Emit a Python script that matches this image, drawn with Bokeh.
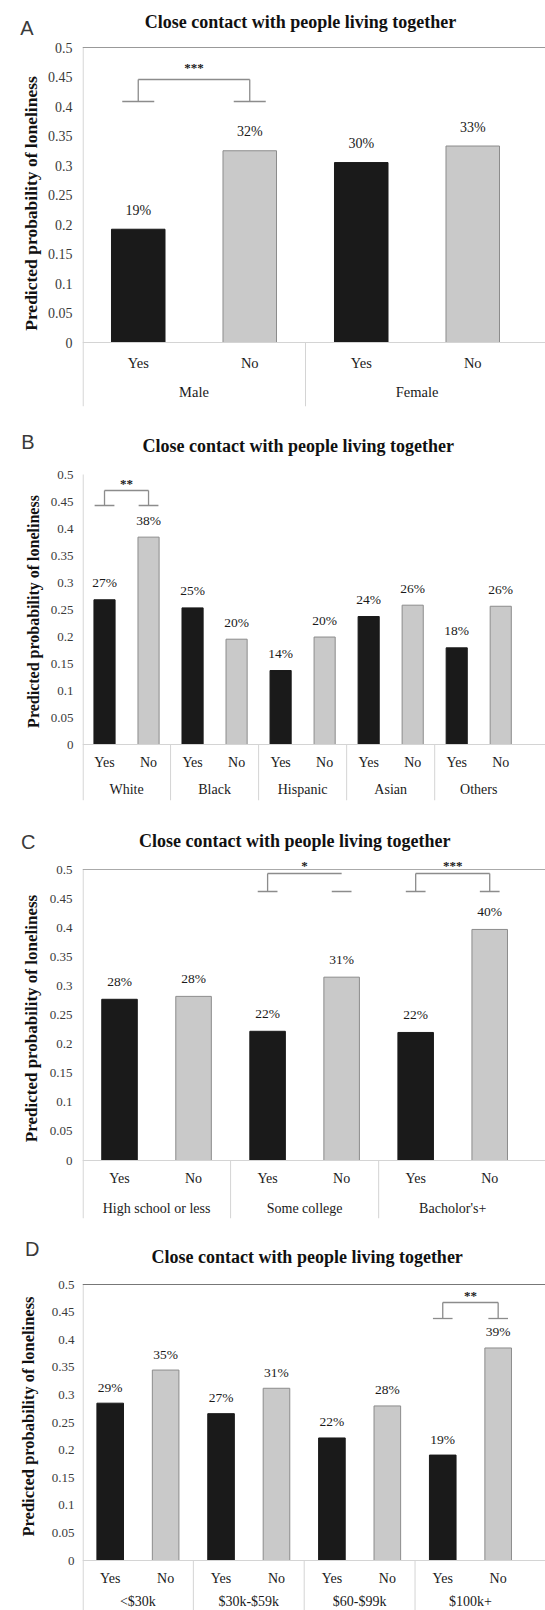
from bokeh.plotting import figure
from bokeh.layouts import column
from bokeh.models import Range1d, FixedTicker, Span, LinearAxis
from bokeh.core.properties import value
from bokeh.embed import file_html
from bokeh.resources import INLINE

# ---------------- data ----------------
TITLE = "Close contact with people living together"
Y_LABEL = "Predicted probability of loneliness"
TICK_VALUES = [0, 0.05, 0.1, 0.15, 0.2, 0.25, 0.3, 0.35, 0.4, 0.45, 0.5]
TICK_LABELS = ["0", "0.05", "0.1", "0.15", "0.2", "0.25", "0.3", "0.35", "0.4", "0.45", "0.5"]
CONTACT = ["Yes", "No"]

A_GROUPS = ["Male", "Female"]
A_YES = [0.192, 0.305]
A_NO = [0.325, 0.333]
A_YES_LABELS = ["19%", "30%"]
A_NO_LABELS = ["32%", "33%"]
A_SIG = [("Male", "***")]

B_GROUPS = ["White", "Black", "Hispanic", "Asian", "Others"]
B_YES = [0.268, 0.253, 0.137, 0.237, 0.179]
B_NO = [0.384, 0.195, 0.199, 0.258, 0.256]
B_YES_LABELS = ["27%", "25%", "14%", "24%", "18%"]
B_NO_LABELS = ["38%", "20%", "20%", "26%", "26%"]
B_SIG = [("White", "**")]

C_GROUPS = ["High school or less", "Some college", "Bacholor's+"]
C_YES = [0.277, 0.222, 0.220]
C_NO = [0.282, 0.315, 0.397]
C_YES_LABELS = ["28%", "22%", "22%"]
C_NO_LABELS = ["28%", "31%", "40%"]
C_SIG = [("Some college", "*"), ("Bacholor's+", "***")]

D_GROUPS = ["<$30k", "$30k-$59k", "$60-$99k", "$100k+"]
D_YES = [0.285, 0.266, 0.222, 0.191]
D_NO = [0.345, 0.312, 0.280, 0.385]
D_YES_LABELS = ["29%", "27%", "22%", "19%"]
D_NO_LABELS = ["35%", "31%", "28%", "39%"]
D_SIG = [("$100k+", "**")]

# ---------------- styles / layout (page pixels) ----------------
SERIF = "Liberation Serif"
SANS = "Liberation Sans"
BLACK_BAR = "#1a1a1a"
GRAY_BAR = "#c9c9c9"
GRAY_EDGE = "#8c8c8c"
AXIS_GRAY = "#d4d4d4"
BRACKET = "#8c8c8c"
PAGE_W = 545

LAYOUTS = {
    "A": dict(fig_top=0, fig_bottom=422, left=82, gw=223, yhalf=47, y0=342, fbot=406,
              title_y=21, title_cx=300, letter_y=27, cat_y=362, grp_y=391, gap=19,
              foot=101, top=79, star=64, fw=16, top_line="#999999",
              fs_tick="14px", fs_ylab="17.5px", fs_cat="14.5px", fs_pct="14px",
              standoff=10, lab_standoff=4, letter_standoff=-16, skip_right=[]),
    "B": dict(fig_top=422, fig_bottom=818, left=77, gw=89, yhalf=474, y0=744, fbot=800,
              title_y=445, title_cx=295, letter_y=441, cat_y=762, grp_y=789, gap=17,
              foot=505, top=490, star=480, fw=10, top_line=None,
              fs_tick="13px", fs_ylab="16px", fs_cat="14px", fs_pct="13.5px",
              standoff=9, lab_standoff=6, letter_standoff=-13, skip_right=[]),
    "C": dict(fig_top=818, fig_bottom=1222, left=76, gw=150, yhalf=869, y0=1160, fbot=1218,
              title_y=840, title_cx=291, letter_y=841, cat_y=1178, grp_y=1208, gap=18,
              foot=891, top=873, star=862, fw=10, top_line="#aaaaaa",
              fs_tick="13px", fs_ylab="17px", fs_cat="14px", fs_pct="13.5px",
              standoff=10, lab_standoff=6, letter_standoff=-17, skip_right=[0]),
    "D": dict(fig_top=1222, fig_bottom=1610, left=73, gw=113, yhalf=1284, y0=1560, fbot=1610,
              title_y=1256, title_cx=302, letter_y=1248, cat_y=1578, grp_y=1601, gap=16,
              foot=1318, top=1302, star=1292, fw=10, top_line="#777777",
              fs_tick="13px", fs_ylab="16.5px", fs_cat="14px", fs_pct="13.5px",
              standoff=8, lab_standoff=11, letter_standoff=-24, skip_right=[]),
}


def make_panel(letter, groups, yes, no, yes_lab, no_lab, sig, lay):
    L, G = lay["left"], lay["gw"]
    ppu = (lay["y0"] - lay["yhalf"]) / 0.5

    def dy(px):
        return (lay["y0"] - px) / ppu

    def dx(px):
        return (px - L) / G

    ybot = dy(lay["fbot"])
    ytop = dy(lay["fig_top"])
    fig_h = lay["fig_bottom"] - lay["fig_top"]
    p = figure(width=PAGE_W, height=fig_h,
               x_range=Range1d(0, dx(PAGE_W)), y_range=Range1d(ybot, ytop),
               x_axis_location=None, y_axis_location="left",
               toolbar_location=None, output_backend="svg", title=None,
               min_border_left=L, min_border_right=0, min_border_top=0,
               min_border_bottom=lay["fig_bottom"] - lay["fbot"])
    p.grid.visible = False
    p.outline_line_color = None
    p.background_fill_color = "white"
    p.border_fill_color = "white"

    ax = p.yaxis[0]
    ax.ticker = FixedTicker(ticks=TICK_VALUES)
    ax.major_label_overrides = dict(zip(TICK_VALUES, TICK_LABELS))
    ax.major_tick_line_color = None
    ax.minor_tick_line_color = None
    ax.major_tick_out = 0
    ax.major_tick_in = 0
    ax.axis_line_color = None
    ax.major_label_standoff = lay["standoff"]
    ax.major_label_text_font = SERIF
    ax.major_label_text_font_size = lay["fs_tick"]
    ax.major_label_text_color = "#3a3a3a"
    ax.axis_label = Y_LABEL
    ax.axis_label_text_font = SERIF
    ax.axis_label_text_font_style = "bold"
    ax.axis_label_text_font_size = lay["fs_ylab"]
    ax.axis_label_text_color = "#111111"
    ax.axis_label_standoff = lay["lab_standoff"]

    # panel letter, drawn as the single label of a second left axis
    ly = dy(lay["letter_y"])
    ax2 = LinearAxis(ticker=FixedTicker(ticks=[ly]), major_label_overrides={ly: letter},
                     axis_line_color=None, major_tick_line_color=None, minor_tick_line_color=None,
                     major_tick_out=0, major_tick_in=0,
                     major_label_standoff=lay["letter_standoff"],
                     major_label_text_font=SANS, major_label_text_font_size="20px",
                     major_label_text_color="#3a3a3a")
    p.add_layout(ax2, "left")

    n = len(groups)
    idx = list(range(n))
    x_yes = [i + 0.25 for i in idx]
    x_no = [i + 0.75 for i in idx]

    # axis lines
    p.add_layout(Span(location=0, dimension="width", line_color=AXIS_GRAY, line_width=1))
    if lay["top_line"]:
        p.add_layout(Span(location=0.5, dimension="width", line_color=lay["top_line"], line_width=1.2))
    p.segment(x0=[0.6 / G], y0=[ybot], x1=[0.6 / G], y1=[0.5], line_color=AXIS_GRAY, line_width=1.2)
    bounds = list(range(1, n))
    p.segment(x0=bounds, y0=[0] * len(bounds), x1=bounds, y1=[ybot] * len(bounds),
              line_color=AXIS_GRAY, line_width=1)

    # bars
    p.vbar(x=x_yes, top=yes, width=0.24, fill_color=BLACK_BAR, line_color=BLACK_BAR)
    p.vbar(x=x_no, top=no, width=0.24, fill_color=GRAY_BAR, line_color=GRAY_EDGE, line_width=1)

    # value labels
    off = lay["gap"] / ppu
    p.text(x=x_yes + x_no, y=[v + off for v in yes + no], text=yes_lab + no_lab,
           text_font=value(SERIF), text_font_size=value(lay["fs_pct"]),
           text_align="center", text_baseline="middle", text_color="#1a1a1a")

    # category labels
    p.text(x=x_yes + x_no, y=[dy(lay["cat_y"])] * (2 * n),
           text=[CONTACT[0]] * n + [CONTACT[1]] * n,
           text_font=value(SERIF), text_font_size=value(lay["fs_cat"]),
           text_align="center", text_baseline="middle", text_color="#1a1a1a")
    p.text(x=[i + 0.5 for i in idx], y=[dy(lay["grp_y"])] * n, text=groups,
           text_font=value(SERIF), text_font_size=value(lay["fs_cat"]),
           text_align="center", text_baseline="middle", text_color="#1a1a1a")

    # significance brackets
    fw = lay["fw"] / G
    yf, yt = dy(lay["foot"]), dy(lay["top"])
    star_x, star_t = [], []
    for k, (grp, stars) in enumerate(sig):
        gi = groups.index(grp)
        xl, xr = gi + 0.25, gi + 0.75
        x0 = [xl, xl, xl - fw, xr - fw]
        y0 = [yt, yt, yf, yf]
        x1 = [xr, xl, xl + fw, xr + fw]
        y1 = [yt, yf, yf, yf]
        if k not in lay["skip_right"]:
            x0.append(xr); y0.append(yt); x1.append(xr); y1.append(yf)
        p.segment(x0=x0, y0=y0, x1=x1, y1=y1, line_color=BRACKET, line_width=1.3)
        star_x.append(gi + 0.5)
        star_t.append(stars)
    p.text(x=star_x, y=[dy(lay["star"] + 3)] * len(star_x), text=star_t,
           text_font=value(SERIF), text_font_size=value("13px"), text_font_style="bold",
           text_align="center", text_baseline="middle", text_color="#1a1a1a")

    # title (inside the frame area above the 0.5 line)
    p.text(x=[dx(lay["title_cx"])], y=[dy(lay["title_y"])], text=[TITLE],
           text_font=value(SERIF), text_font_size=value("18px"), text_font_style="bold",
           text_align="center", text_baseline="middle", text_color="#111111")
    return p


pa = make_panel("A", A_GROUPS, A_YES, A_NO, A_YES_LABELS, A_NO_LABELS, A_SIG, LAYOUTS["A"])
pb = make_panel("B", B_GROUPS, B_YES, B_NO, B_YES_LABELS, B_NO_LABELS, B_SIG, LAYOUTS["B"])
pc = make_panel("C", C_GROUPS, C_YES, C_NO, C_YES_LABELS, C_NO_LABELS, C_SIG, LAYOUTS["C"])
pd_ = make_panel("D", D_GROUPS, D_YES, D_NO, D_YES_LABELS, D_NO_LABELS, D_SIG, LAYOUTS["D"])

layout = column(pa, pb, pc, pd_, spacing=0)
open("out.html", "w").write(file_html(layout, INLINE))
